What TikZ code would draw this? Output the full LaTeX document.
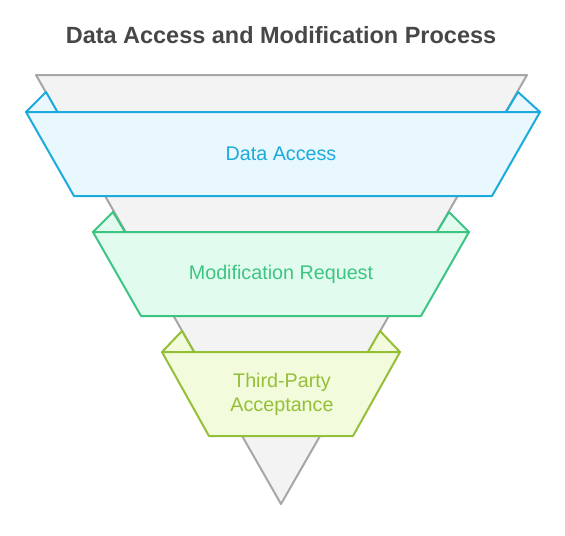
\documentclass[tikz,border=0pt]{standalone}
\usepackage{fontspec}
\setmainfont{Liberation Sans}

\begin{document}
\begin{tikzpicture}[x=0.75pt,y=0.75pt,yscale=-1,xscale=1]
\useasboundingbox (0,0) rectangle (565,536);

%Shape: Triangle [funnel]
\draw [color={rgb, 255:red, 166; green, 166; blue, 166 }, fill={rgb, 255:red, 243; green, 243; blue, 243 }, line width=1.5, line join=round] (36,75) -- (527,75) -- (281,504) -- cycle ;

%Shape: Triangle [ear, access left]
\draw [color={rgb, 255:red, 27; green, 170; blue, 219 }, fill={rgb, 255:red, 232; green, 248; blue, 254 }, line width=1.5, line join=round] (26,112) -- (46,92) -- (57.5,112) -- cycle ;
%Shape: Triangle [ear, access right]
\draw [color={rgb, 255:red, 27; green, 170; blue, 219 }, fill={rgb, 255:red, 232; green, 248; blue, 254 }, line width=1.5, line join=round] (540,112) -- (518,92) -- (506,112) -- cycle ;
%Shape: Trapezoid [access]
\draw [color={rgb, 255:red, 27; green, 170; blue, 219 }, fill={rgb, 255:red, 232; green, 248; blue, 254 }, line width=1.5, line join=round] (26,112) -- (540,112) -- (492,196) -- (74,196) -- cycle ;

%Shape: Triangle [ear, modify left]
\draw [color={rgb, 255:red, 60; green, 196; blue, 130 }, fill={rgb, 255:red, 225; green, 252; blue, 239 }, line width=1.5, line join=round] (93,232) -- (113,212) -- (125,232) -- cycle ;
%Shape: Triangle [ear, modify right]
\draw [color={rgb, 255:red, 60; green, 196; blue, 130 }, fill={rgb, 255:red, 225; green, 252; blue, 239 }, line width=1.5, line join=round] (469,232) -- (449,212) -- (437,232) -- cycle ;
%Shape: Trapezoid [modify]
\draw [color={rgb, 255:red, 60; green, 196; blue, 130 }, fill={rgb, 255:red, 225; green, 252; blue, 239 }, line width=1.5, line join=round] (93,232) -- (469,232) -- (421,316) -- (141,316) -- cycle ;

%Shape: Triangle [ear, accept left]
\draw [color={rgb, 255:red, 148; green, 191; blue, 54 }, fill={rgb, 255:red, 242; green, 252; blue, 220 }, line width=1.5, line join=round] (162,352) -- (182,331) -- (194,352) -- cycle ;
%Shape: Triangle [ear, accept right]
\draw [color={rgb, 255:red, 148; green, 191; blue, 54 }, fill={rgb, 255:red, 242; green, 252; blue, 220 }, line width=1.5, line join=round] (400,352) -- (380,331) -- (368,352) -- cycle ;
%Shape: Trapezoid [accept]
\draw [color={rgb, 255:red, 148; green, 191; blue, 54 }, fill={rgb, 255:red, 242; green, 252; blue, 220 }, line width=1.5, line join=round] (162,352) -- (400,352) -- (353,436) -- (209,436) -- cycle ;

% Text Node
\draw (281,35) node [inner sep=0.75pt, color={rgb, 255:red, 71; green, 71; blue, 71 }, font=\fontsize{17.6}{21}\selectfont\bfseries] (title) {Data Access and Modification Process};
% Text Node
\draw (281,154) node [inner sep=0.75pt, color={rgb, 255:red, 27; green, 170; blue, 219 }, font=\fontsize{14.8}{18}\selectfont] (access) {Data Access};
% Text Node
\draw (281,274) node [inner sep=0.75pt, color={rgb, 255:red, 60; green, 196; blue, 130 }, font=\fontsize{14.8}{18}\selectfont] (modify) {Modification Request};
% Text Node
\draw (282,394) node [inner sep=0.75pt, align=center, color={rgb, 255:red, 148; green, 191; blue, 54 }, font=\fontsize{14.8}{18}\selectfont] (accept) {Third-Party\\Acceptance};

\end{tikzpicture}
\end{document}
